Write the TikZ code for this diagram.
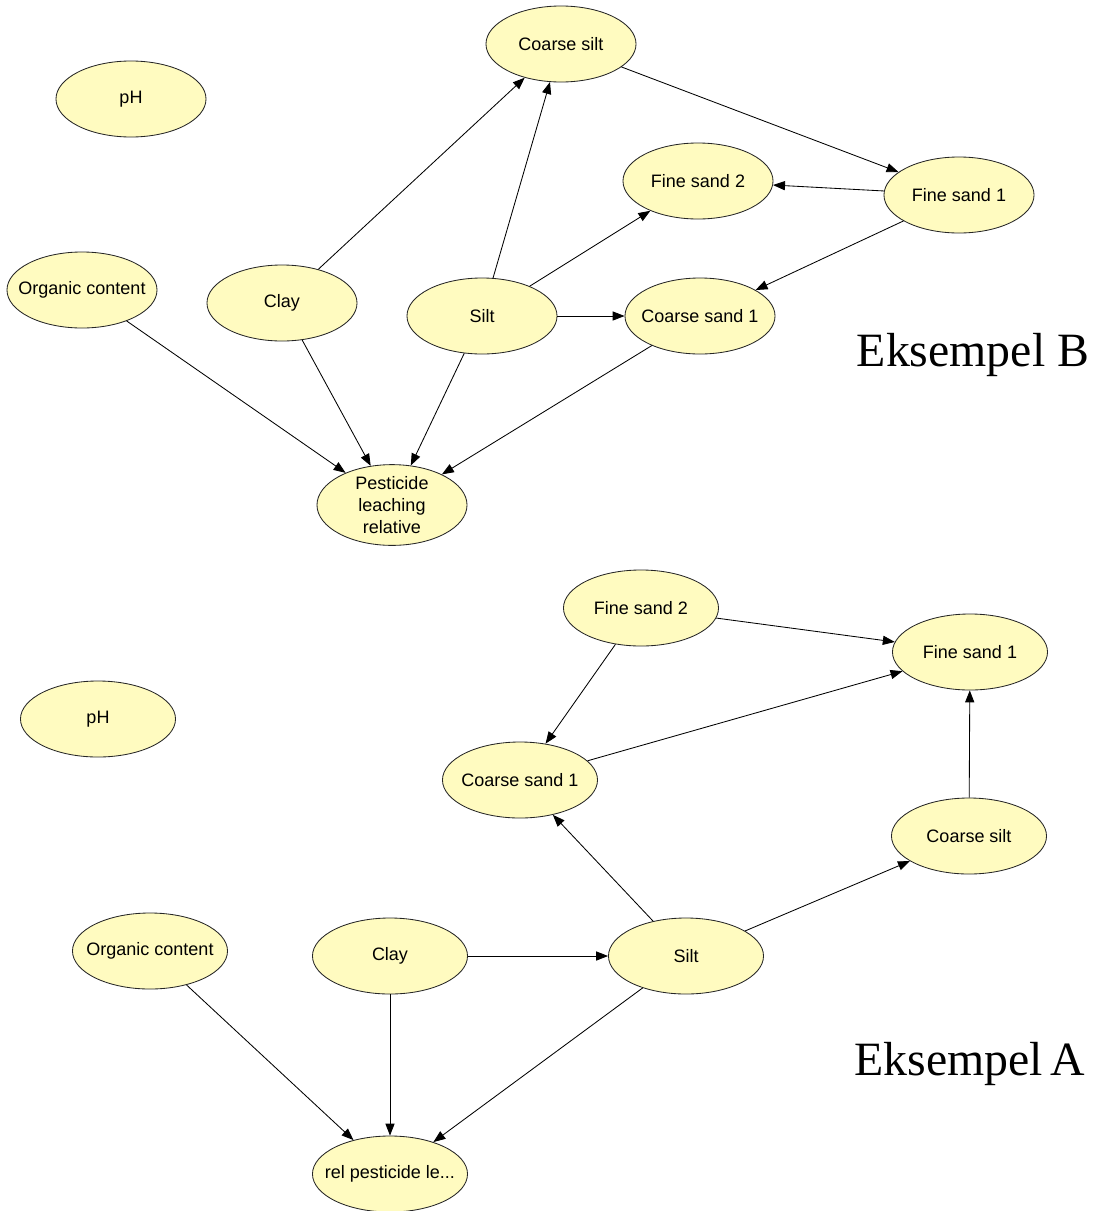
\documentclass[tikz,border=0pt]{standalone}
\usepackage{fontspec}
\newfontfamily\varfont{Liberation Sans}
\newfontfamily\titlefont{Liberation Serif}
\usetikzlibrary{shapes.geometric,arrows.meta}
\definecolor{varfill}{RGB}{255,251,192}

\begin{document}
\begin{tikzpicture}[
    x=0.025cm, y=-0.025cm,
    every node/.style={font=\varfont\fontsize{12.8}{15.6}\selectfont},
    var/.style={ellipse, draw=black!85, line width=0.6pt, fill=varfill,
                minimum width=3.75cm, minimum height=1.9cm,
                inner xsep=-20pt, inner ysep=0pt, align=center},
    wide/.style={minimum width=3.875cm},
    link/.style={-{Triangle[length=8.5pt,width=6.5pt]}, line width=0.6pt},
    title/.style={font=\titlefont\fontsize{34}{40}\selectfont},
    ]

    \useasboundingbox (0,0) rectangle (1094,1211);

    % Eksempel B
    \node[var] (b-ph)    at (131,99)  {pH};
    \node[var] (b-csilt) at (561,44)  {Coarse silt};
    \node[var] (b-fs2)   at (698,181) {Fine sand 2};
    \node[var] (b-fs1)   at (959,195) {Fine sand 1};
    \node[var] (b-org)   at (82,290)  {Organic content};
    \node[var] (b-clay)  at (282,303) {Clay};
    \node[var] (b-silt)  at (482,316) {Silt};
    \node[var] (b-cs1)   at (700,316) {Coarse sand 1};
    \node[var] (b-pest)  at (392,505) {Pesticide\\leaching\\relative};
    \node[title] (b-title) at (973,355) {Eksempel B};

    \foreach \a/\b in {b-clay/b-csilt, b-silt/b-csilt, b-csilt/b-fs1,
                       b-fs1/b-fs2, b-fs1/b-cs1, b-silt/b-fs2, b-silt/b-cs1,
                       b-org/b-pest, b-clay/b-pest, b-silt/b-pest, b-cs1/b-pest}{
    \draw[link] (\a) -- (\b);
    }

    % Eksempel A
    \node[var, wide] (a-fs2)   at (641,608)  {Fine sand 2};
    \node[var, wide] (a-fs1)   at (970,652)  {Fine sand 1};
    \node[var, wide] (a-ph)    at (98,719)   {pH};
    \node[var, wide] (a-cs1)   at (520,780)  {Coarse sand 1};
    \node[var, wide] (a-csilt) at (969,836)  {Coarse silt};
    \node[var, wide] (a-org)   at (150,951)  {Organic content};
    \node[var, wide] (a-clay)  at (390,956)  {Clay};
    \node[var, wide] (a-silt)  at (686,956)  {Silt};
    \node[var, wide] (a-rel)   at (390,1174) {rel pesticide le...};
    \node[title] (a-title) at (970,1064) {Eksempel\,A};

    \foreach \a/\b in {a-fs2/a-fs1, a-fs2/a-cs1, a-cs1/a-fs1, a-csilt/a-fs1,
                       a-silt/a-cs1, a-silt/a-csilt, a-clay/a-silt,
                       a-org/a-rel, a-clay/a-rel, a-silt/a-rel}{
    \draw[link] (\a) -- (\b);
    }

\end{tikzpicture}
\end{document}
